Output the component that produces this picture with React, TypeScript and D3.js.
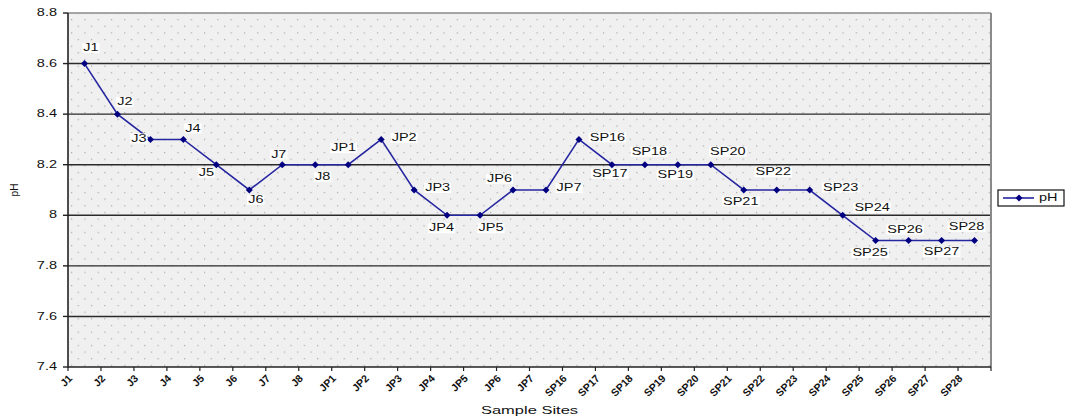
import React, { useEffect, useRef } from "react";
import * as d3 from "d3";

const categories = [
  "J1", "J2", "J3", "J4", "J5", "J6", "J7", "J8",
  "JP1", "JP2", "JP3", "JP4", "JP5", "JP6", "JP7",
  "SP16", "SP17", "SP18", "SP19", "SP20", "SP21", "SP22", "SP23", "SP24", "SP25", "SP26", "SP27", "SP28",
];
const phValues = [
  8.6, 8.4, 8.3, 8.3, 8.2, 8.1, 8.2, 8.2,
  8.2, 8.3, 8.1, 8.0, 8.0, 8.1, 8.1,
  8.3, 8.2, 8.2, 8.2, 8.2, 8.1, 8.1, 8.1, 8.0, 7.9, 7.9, 7.9, 7.9,
];
const yTicks = [7.4, 7.6, 7.8, 8.0, 8.2, 8.4, 8.6, 8.8];
const yDomain = [7.4, 8.8];
const seriesName = "pH";
const xTitle = "Sample Sites";
const yTitle = "pH";

// label placement (label centre offset from the point), style only
const labelOffsets: [number, number][] = [
  [6.5, -15.5], [7.5, -12], [-11.5, -1], [9.5, -11], [-10, 8], [6.5, 10], [-3.5, -10], [7.5, 12],
  [-4.5, -16.5], [23, -1.5], [23.5, -2], [-5.5, 13], [11, 13], [-13.5, -11], [23, -2],
  [28.5, -2], [-2, 9], [4.5, -13], [-2.5, 10], [17, -13], [-3, 11.5], [-3.5, -18], [31, -2.5],
  [29.5, -7.5], [-5.5, 12.5], [-3.5, -11], [0, 11.5], [-8, -13.5],
];

const W = 1065;
const H = 418;
const L = 68, R = 991, T = 13, B = 367;
const SX = 1.45;
const FONT = "'Liberation Sans', Arial, sans-serif";

export default function App() {
  const ref = useRef<SVGSVGElement>(null);
  useEffect(() => {
    const svg = d3.select(ref.current!);
    svg.selectAll("*").remove();

    const x = d3.scaleBand<string>().domain(categories).range([L, R]).paddingInner(0).paddingOuter(0);
    const y = d3.scaleLinear().domain(yDomain).range([B, T]);
    const cx = (c: string) => (x(c) as number) + x.bandwidth() / 2;

    const defs = svg.append("defs");
    const pat = defs.append("pattern").attr("id", "dots").attr("patternUnits", "userSpaceOnUse")
      .attr("width", 13.3).attr("height", 13.3).attr("x", L + 3).attr("y", T + 6);
    pat.append("rect").attr("width", 13.3).attr("height", 13.3).attr("fill", "#f0f0f0");
    pat.append("rect").attr("x", 0).attr("y", 0).attr("width", 1.2).attr("height", 1.2).attr("fill", "#a8a8a8");
    pat.append("rect").attr("x", 6.65).attr("y", 6.65).attr("width", 1.2).attr("height", 1.2).attr("fill", "#a8a8a8");

    svg.append("rect").attr("x", 0).attr("y", 0).attr("width", W).attr("height", H).attr("fill", "#ffffff");
    svg.append("rect").attr("x", L).attr("y", T).attr("width", R - L).attr("height", B - T).attr("fill", "url(#dots)");

    // gridlines
    svg.append("g").selectAll("line").data(yTicks.filter((t) => t > yDomain[0] && t < yDomain[1]))
      .join("line")
      .attr("x1", L).attr("x2", R).attr("y1", (d) => y(d)).attr("y2", (d) => y(d))
      .attr("stroke", "#2a2a2a").attr("stroke-width", 1.4);

    // frame: top & right grey
    svg.append("line").attr("x1", L).attr("x2", R).attr("y1", T).attr("y2", T).attr("stroke", "#8a8a8a").attr("stroke-width", 1.5);
    svg.append("line").attr("x1", R).attr("x2", R).attr("y1", T).attr("y2", B).attr("stroke", "#8a8a8a").attr("stroke-width", 2);

    // axes
    svg.append("line").attr("x1", L).attr("x2", L).attr("y1", T).attr("y2", B + 0.5).attr("stroke", "#222").attr("stroke-width", 1.6);
    svg.append("line").attr("x1", L).attr("x2", R).attr("y1", B).attr("y2", B).attr("stroke", "#222").attr("stroke-width", 1.6);

    // y ticks + labels
    const yg = svg.append("g");
    yTicks.forEach((t) => {
      yg.append("line").attr("x1", L - 5).attr("x2", L).attr("y1", y(t)).attr("y2", y(t)).attr("stroke", "#222").attr("stroke-width", 1.4);
      yg.append("text")
        .attr("transform", `translate(${L - 11},${y(t)}) scale(${SX},1)`)
        .attr("text-anchor", "end").attr("dominant-baseline", "central")
        .attr("font-family", FONT).attr("font-size", 10).attr("fill", "#111")
        .text(d3.format("")(+t.toFixed(1)));
    });

    // x ticks + labels
    const xg = svg.append("g");
    const bounds = categories.map((c) => x(c) as number).concat([R]);
    bounds.forEach((b) => {
      xg.append("line").attr("x1", b).attr("x2", b).attr("y1", B).attr("y2", B + 4).attr("stroke", "#222").attr("stroke-width", 1.2);
    });
    categories.forEach((c) => {
      xg.append("text")
        .attr("transform", `translate(${(x(c) as number) + 5},${B + 12}) rotate(-45)`)
        .attr("text-anchor", "end")
        .attr("font-family", FONT).attr("font-size", 10.5).attr("font-weight", "bold").attr("fill", "#111")
        .text(c);
    });

    // axis titles
    svg.append("text")
      .attr("transform", `translate(${(L + R) / 2},${414}) scale(1.5,1)`)
      .attr("text-anchor", "middle").attr("font-family", FONT).attr("font-size", 11).attr("fill", "#111")
      .text(xTitle);
    svg.append("text")
      .attr("transform", `translate(${18},${190}) rotate(-90)`)
      .attr("text-anchor", "middle").attr("font-family", FONT).attr("font-size", 10).attr("fill", "#111")
      .text(yTitle);

    // series line
    const data = categories.map((c, i) => ({ c, v: phValues[i] }));
    const line = d3.line<{ c: string; v: number }>().x((d) => cx(d.c)).y((d) => y(d.v));
    svg.append("path").datum(data).attr("d", line).attr("fill", "none").attr("stroke", "#2626a0").attr("stroke-width", 1.6);

    const diamond = "M0,-3.5L3.5,0L0,3.5L-3.5,0Z";
    svg.append("g").selectAll("path").data(data).join("path")
      .attr("d", diamond)
      .attr("transform", (d) => `translate(${cx(d.c)},${y(d.v)})`)
      .attr("fill", "#000080");

    // data labels
    const lg = svg.append("g");
    data.forEach((d, i) => {
      const [dx, dy] = labelOffsets[i];
      const px = cx(d.c) + dx;
      const py = y(d.v) + dy;
      const g = lg.append("g").attr("transform", `translate(${px},${py})`);
      const rect = g.append("rect").attr("fill", "#ffffff");
      const txt = g.append("text")
        .attr("transform", `scale(${SX},1)`)
        .attr("text-anchor", "middle").attr("dominant-baseline", "central")
        .attr("font-family", FONT).attr("font-size", 10).attr("fill", "#111")
        .text(d.c);
      const bb = (txt.node() as SVGTextElement).getBBox();
      const w = bb.width * SX + 2;
      const h = 10;
      rect.attr("x", -w / 2).attr("y", -h / 2).attr("width", w).attr("height", h);
    });

    // legend
    const lgX = 998, lgY = 190;
    svg.append("rect").attr("x", lgX).attr("y", lgY).attr("width", 66).attr("height", 16)
      .attr("fill", "#fff").attr("stroke", "#111").attr("stroke-width", 1.2);
    svg.append("line").attr("x1", lgX + 5).attr("x2", lgX + 36).attr("y1", lgY + 8).attr("y2", lgY + 8)
      .attr("stroke", "#2626a0").attr("stroke-width", 1.6);
    svg.append("path").attr("d", diamond).attr("transform", `translate(${lgX + 21},${lgY + 8})`).attr("fill", "#000080");
    svg.append("text")
      .attr("transform", `translate(${lgX + 41},${lgY + 8}) scale(${SX},1)`)
      .attr("dominant-baseline", "central").attr("font-family", FONT).attr("font-size", 10).attr("fill", "#111")
      .text(seriesName);
  }, []);

  return (
    <svg ref={ref} width={W} height={H} style={{ position: "absolute", left: 0, top: 0, display: "block" }} />
  );
}
